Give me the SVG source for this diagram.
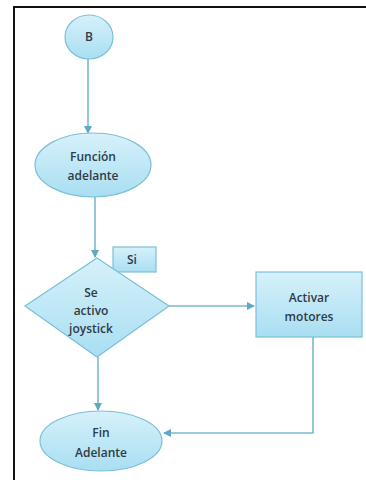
<svg xmlns="http://www.w3.org/2000/svg" width="366" height="480" viewBox="0 0 366 480">
<defs>
<linearGradient id="g" x1="0" y1="0" x2="0" y2="1">
<stop offset="0" stop-color="#d6f1fa"/>
<stop offset="1" stop-color="#a9def2"/>
</linearGradient>
<marker id="ah" markerWidth="8" markerHeight="8" refX="7" refY="4" orient="auto" markerUnits="userSpaceOnUse">
<path d="M0,0 L8,4 L0,8 z" fill="#5fa9c4"/>
</marker>
<style>
.n{fill:url(#g);stroke:#7cbfd6;stroke-width:1.2}
.t{font-family:"Open Sans","Noto Sans",sans-serif;font-weight:600;font-size:12px;fill:#2f3b46;text-anchor:middle}
.c{fill:none;stroke:#7ab9cf;stroke-width:1.6}
</style>
</defs>
<rect width="366" height="480" fill="#fff"/>
<path d="M14,480 V7 H366" fill="none" stroke="#111" stroke-width="2"/>
<g id="connectors">
<path class="c" d="M88,59 V133" marker-end="url(#ah)"/>
<path class="c" d="M95,196 V257" marker-end="url(#ah)"/>
<path class="c" d="M169,306 H254" marker-end="url(#ah)"/>
<path class="c" d="M98,357 V410" marker-end="url(#ah)"/>
<path class="c" d="M313,337 V433 H164" marker-end="url(#ah)"/>
</g>
<g id="node-b">
<ellipse class="n" cx="89" cy="37" rx="24" ry="22"/>
<text class="t" x="89" y="41" font-size="10">B</text>
</g>
<g id="node-funcion">
<ellipse class="n" cx="93" cy="165" rx="58" ry="32"/>
<text class="t" x="93" y="161">Función</text>
<text class="t" x="93" y="180">adelante</text>
</g>
<g id="node-si">
<rect class="n" x="113" y="247" width="43" height="25"/>
<text class="t" x="132" y="264">Si</text>
</g>
<g id="node-decision">
<polygon class="n" points="97,258 169,306 97,357 25,306"/>
<text class="t" x="91" y="297">Se</text>
<text class="t" x="91" y="315">activo</text>
<text class="t" x="91" y="333">joystick</text>
</g>
<g id="node-activar">
<rect class="n" x="256" y="272" width="106" height="65"/>
<text class="t" x="309" y="302">Activar</text>
<text class="t" x="309" y="321">motores</text>
</g>
<g id="node-fin">
<ellipse class="n" cx="101" cy="441" rx="61" ry="30"/>
<text class="t" x="101" y="437">Fin</text>
<text class="t" x="101" y="457">Adelante</text>
</g>
</svg>
